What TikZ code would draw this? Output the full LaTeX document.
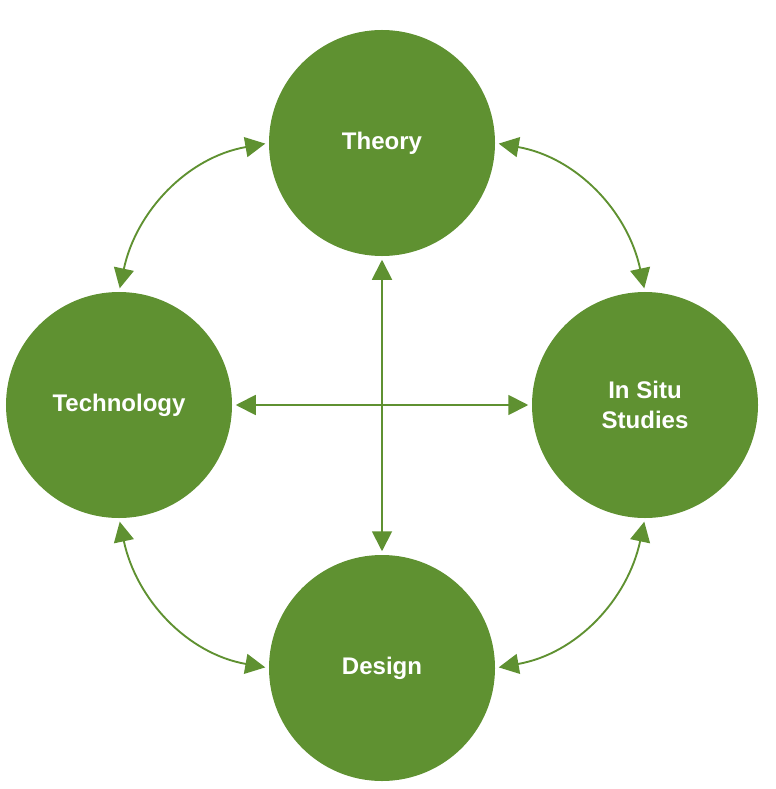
\documentclass[tikz,border=0pt]{standalone}
\usepackage{fontspec}
\setmainfont{Liberation Sans}
\usetikzlibrary{arrows.meta}
\definecolor{leaf}{HTML}{5F9131}
\tikzset{
    topic/.style={circle, fill=leaf, minimum size=6.78cm, inner sep=0pt,
        text=white, font=\fontsize{20.5}{25.6}\selectfont\bfseries, align=center},
    link/.style={draw=leaf, line width=1.6pt,
        {Triangle[length=0.6cm,width=0.6cm]}-{Triangle[length=0.6cm,width=0.6cm]},
        shorten <=3pt, shorten >=3pt}
}
\begin{document}
\begin{tikzpicture}[x=0.03cm, y=-0.03cm]
        \useasboundingbox (0,0) rectangle (775,789);
        \node[topic] (theory) at (382,143) {Theory};
        \node[topic] (tech) at (119,405) {Technology};
        \node[topic] (situ) at (645,405) {In Situ\\Studies};
        \node[topic] (design) at (382,668) {Design};
        \draw[link] (tech.north) to[out=78, in=190] (theory.west);
        \draw[link] (situ.north) to[out=102, in=-10] (theory.east);
        \draw[link] (tech.south) to[out=-78, in=170] (design.west);
        \draw[link] (situ.south) to[out=-102, in=10] (design.east);
        \draw[link] (tech.east) -- (situ.west);
        \draw[link] (theory.south) -- (design.north);
    \end{tikzpicture}
\end{document}
